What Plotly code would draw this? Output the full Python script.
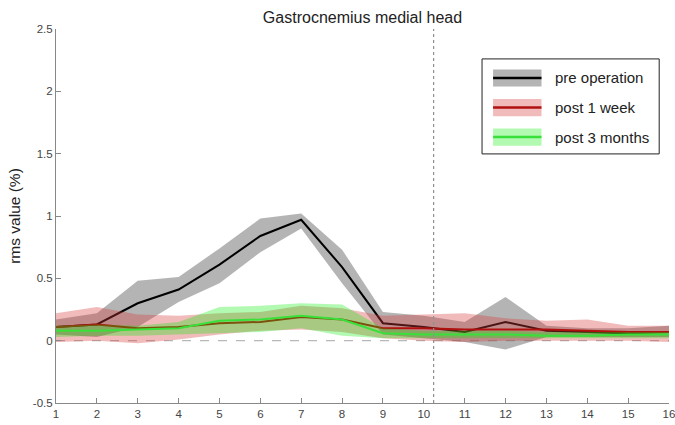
import plotly.graph_objects as go

# Sample index along the gait cycle
x = list(range(1, 17))

# Pre operation: mean and band limits
pre_mean = [0.11, 0.13, 0.30, 0.41, 0.61, 0.84, 0.97, 0.59, 0.14, 0.11, 0.07, 0.15, 0.08, 0.07, 0.06, 0.07]
pre_upper = [0.17, 0.22, 0.48, 0.51, 0.74, 0.98, 1.02, 0.73, 0.23, 0.20, 0.15, 0.35, 0.12, 0.10, 0.10, 0.12]
pre_lower = [0.05, 0.03, 0.11, 0.31, 0.46, 0.71, 0.90, 0.46, 0.05, 0.02, -0.01, -0.07, 0.03, 0.03, 0.03, 0.03]

# Post 1 week
wk_mean = [0.11, 0.13, 0.10, 0.11, 0.14, 0.15, 0.19, 0.17, 0.10, 0.10, 0.09, 0.09, 0.09, 0.08, 0.07, 0.07]
wk_upper = [0.22, 0.27, 0.21, 0.20, 0.22, 0.23, 0.28, 0.26, 0.20, 0.21, 0.22, 0.18, 0.16, 0.17, 0.12, 0.12]
wk_lower = [-0.01, 0.00, -0.02, 0.01, 0.05, 0.08, 0.09, 0.07, 0.02, 0.00, -0.01, 0.00, 0.00, 0.00, 0.00, -0.01]

# Post 3 months
mo_mean = [0.08, 0.08, 0.09, 0.10, 0.16, 0.17, 0.20, 0.17, 0.06, 0.05, 0.05, 0.05, 0.04, 0.04, 0.05, 0.05]
mo_upper = [0.12, 0.13, 0.12, 0.15, 0.27, 0.28, 0.30, 0.29, 0.10, 0.08, 0.08, 0.08, 0.07, 0.07, 0.07, 0.07]
mo_lower = [0.03, 0.04, 0.04, 0.05, 0.06, 0.07, 0.10, 0.04, 0.02, 0.02, 0.02, 0.02, 0.02, 0.02, 0.02, 0.02]

x_marker = 10.24
y_ticks = [-0.5, 0, 0.5, 1, 1.5, 2, 2.5]
y_tick_text = ["-0.5", "0", "0.5", "1", "1.5", "2", "2.5"]

series = [
    ("pre operation", pre_mean, pre_upper, pre_lower, "rgba(105,105,105,0.5)", "#000000"),
    ("post 1 week", wk_mean, wk_upper, wk_lower, "rgba(215,60,60,0.35)", "#b01010"),
    ("post 3 months", mo_mean, mo_upper, mo_lower, "rgba(0,235,0,0.3)", "#3ae03a"),
]

fig = go.Figure()

# Zero reference line
fig.add_trace(go.Scatter(x=[x[0], x[-1]], y=[0, 0], mode="lines",
                         line=dict(color="#b8b8b8", width=1.2, dash="dash"),
                         hoverinfo="skip", showlegend=False))

for name, mean, up, lo, fill_col, line_col in series:
    fig.add_trace(go.Scatter(x=x + x[::-1], y=up + lo[::-1], fill="toself",
                             fillcolor=fill_col, line=dict(width=0),
                             mode="lines", hoverinfo="skip", showlegend=False))
    fig.add_trace(go.Scatter(x=x, y=mean, mode="lines", name=name,
                             line=dict(color=line_col, width=2), showlegend=False))

# Vertical marker
fig.add_trace(go.Scatter(x=[x_marker, x_marker], y=[-0.5, 2.5], mode="lines",
                         line=dict(color="#909090", width=1.2, dash="dot"),
                         hoverinfo="skip", showlegend=False))

# Legend drawn as a boxed key in paper coordinates
shapes = [dict(type="rect", xref="paper", yref="paper", x0=0.695, x1=0.984,
               y0=0.666, y1=0.920, line=dict(color="#222222", width=1),
               fillcolor="white", layer="above")]
annotations = []
row_y = [0.869, 0.790, 0.711]
for (name, _, _, _, fill_col, line_col), ry in zip(series, row_y):
    shapes.append(dict(type="rect", xref="paper", yref="paper", x0=0.713, x1=0.792,
                       y0=ry - 0.023, y1=ry + 0.023, line=dict(width=0),
                       fillcolor=fill_col, layer="above"))
    shapes.append(dict(type="line", xref="paper", yref="paper", x0=0.713, x1=0.792,
                       y0=ry, y1=ry, line=dict(color=line_col, width=2.5), layer="above"))
    annotations.append(dict(text=name, xref="paper", yref="paper", x=0.810, y=ry,
                            xanchor="left", yanchor="middle", showarrow=False,
                            font=dict(size=15, color="#222222")))

fig.update_layout(
    width=675, height=425,
    margin=dict(l=56, r=6, t=29, b=22),
    paper_bgcolor="white", plot_bgcolor="white",
    font=dict(family="Liberation Sans, Arial, sans-serif", color="#333333"),
    title=dict(text="Gastrocnemius medial head", x=0.537, xanchor="center",
               y=0.96, yanchor="middle", font=dict(size=16, color="#222222")),
    shapes=shapes, annotations=annotations,
    showlegend=False,
)
fig.update_xaxes(range=[1, 16], tickvals=x, ticks="inside", ticklen=5,
                 tickcolor="#888888", showline=True, linecolor="#888888",
                 linewidth=1, showgrid=False, zeroline=False,
                 ticklabeloverflow="allow", automargin=False,
                 tickfont=dict(size=11.5, color="#444444"))
fig.update_yaxes(range=[-0.5, 2.5], tickvals=y_ticks, ticktext=y_tick_text,
                 ticks="inside", ticklen=5, tickcolor="#888888", showline=True,
                 linecolor="#888888", linewidth=1, showgrid=False, zeroline=False,
                 ticklabeloverflow="allow", automargin=False,
                 tickfont=dict(size=11.5, color="#444444"),
                 title=dict(text="rms value (%)", font=dict(size=15.5, color="#222222"),
                            standoff=8))

fig.write_html("out.html")
